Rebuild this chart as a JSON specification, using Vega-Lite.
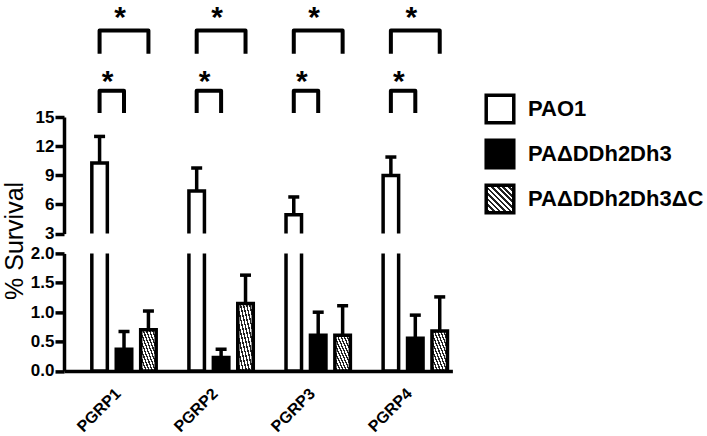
{
  "$schema": "https://vega.github.io/schema/vega-lite/v6.json",
  "padding": {"left": 2, "top": 3, "right": 5, "bottom": 0},
  "background": "white",
  "spacing": 19.4,
  "bounds": "flush",
  "config": {
    "view": {"stroke": null},
    "font": "Liberation Sans",
    "axis": {"domainColor": "black", "tickColor": "black", "labelColor": "black", "titleColor": "black", "grid": false, "labelOverlap": false}
  },
  "datasets": {
    "survival": [
      {"group": "PGRP1", "strain": "PAO1", "mean": 10.26, "upper": 13.0},
      {"group": "PGRP1", "strain": "PAΔDDh2Dh3", "mean": 0.37, "upper": 0.67},
      {"group": "PGRP1", "strain": "PAΔDDh2Dh3ΔC", "mean": 0.70, "upper": 1.02},
      {"group": "PGRP2", "strain": "PAO1", "mean": 7.38, "upper": 9.75},
      {"group": "PGRP2", "strain": "PAΔDDh2Dh3", "mean": 0.23, "upper": 0.37},
      {"group": "PGRP2", "strain": "PAΔDDh2Dh3ΔC", "mean": 1.15, "upper": 1.63},
      {"group": "PGRP3", "strain": "PAO1", "mean": 4.95, "upper": 6.77},
      {"group": "PGRP3", "strain": "PAΔDDh2Dh3", "mean": 0.61, "upper": 1.0},
      {"group": "PGRP3", "strain": "PAΔDDh2Dh3ΔC", "mean": 0.61, "upper": 1.11},
      {"group": "PGRP4", "strain": "PAO1", "mean": 8.97, "upper": 10.88},
      {"group": "PGRP4", "strain": "PAΔDDh2Dh3", "mean": 0.555, "upper": 0.95},
      {"group": "PGRP4", "strain": "PAΔDDh2Dh3ΔC", "mean": 0.68, "upper": 1.26}
    ],
    "brackets": [
      {"id": "PGRP1 a", "group": "PGRP1", "strain": "PAO1", "y": 15.4, "o": 1},
      {"id": "PGRP1 a", "group": "PGRP1", "strain": "PAO1", "y": 17.7, "o": 2},
      {"id": "PGRP1 a", "group": "PGRP1", "strain": "PAΔDDh2Dh3", "y": 17.7, "o": 3},
      {"id": "PGRP1 a", "group": "PGRP1", "strain": "PAΔDDh2Dh3", "y": 15.4, "o": 4},
      {"id": "PGRP1 b", "group": "PGRP1", "strain": "PAO1", "y": 21.5, "o": 1},
      {"id": "PGRP1 b", "group": "PGRP1", "strain": "PAO1", "y": 23.9, "o": 2},
      {"id": "PGRP1 b", "group": "PGRP1", "strain": "PAΔDDh2Dh3ΔC", "y": 23.9, "o": 3},
      {"id": "PGRP1 b", "group": "PGRP1", "strain": "PAΔDDh2Dh3ΔC", "y": 21.5, "o": 4},
      {"id": "PGRP2 a", "group": "PGRP2", "strain": "PAO1", "y": 15.4, "o": 1},
      {"id": "PGRP2 a", "group": "PGRP2", "strain": "PAO1", "y": 17.7, "o": 2},
      {"id": "PGRP2 a", "group": "PGRP2", "strain": "PAΔDDh2Dh3", "y": 17.7, "o": 3},
      {"id": "PGRP2 a", "group": "PGRP2", "strain": "PAΔDDh2Dh3", "y": 15.4, "o": 4},
      {"id": "PGRP2 b", "group": "PGRP2", "strain": "PAO1", "y": 21.5, "o": 1},
      {"id": "PGRP2 b", "group": "PGRP2", "strain": "PAO1", "y": 23.9, "o": 2},
      {"id": "PGRP2 b", "group": "PGRP2", "strain": "PAΔDDh2Dh3ΔC", "y": 23.9, "o": 3},
      {"id": "PGRP2 b", "group": "PGRP2", "strain": "PAΔDDh2Dh3ΔC", "y": 21.5, "o": 4},
      {"id": "PGRP3 a", "group": "PGRP3", "strain": "PAO1", "y": 15.4, "o": 1},
      {"id": "PGRP3 a", "group": "PGRP3", "strain": "PAO1", "y": 17.7, "o": 2},
      {"id": "PGRP3 a", "group": "PGRP3", "strain": "PAΔDDh2Dh3", "y": 17.7, "o": 3},
      {"id": "PGRP3 a", "group": "PGRP3", "strain": "PAΔDDh2Dh3", "y": 15.4, "o": 4},
      {"id": "PGRP3 b", "group": "PGRP3", "strain": "PAO1", "y": 21.5, "o": 1},
      {"id": "PGRP3 b", "group": "PGRP3", "strain": "PAO1", "y": 23.9, "o": 2},
      {"id": "PGRP3 b", "group": "PGRP3", "strain": "PAΔDDh2Dh3ΔC", "y": 23.9, "o": 3},
      {"id": "PGRP3 b", "group": "PGRP3", "strain": "PAΔDDh2Dh3ΔC", "y": 21.5, "o": 4},
      {"id": "PGRP4 a", "group": "PGRP4", "strain": "PAO1", "y": 15.4, "o": 1},
      {"id": "PGRP4 a", "group": "PGRP4", "strain": "PAO1", "y": 17.7, "o": 2},
      {"id": "PGRP4 a", "group": "PGRP4", "strain": "PAΔDDh2Dh3", "y": 17.7, "o": 3},
      {"id": "PGRP4 a", "group": "PGRP4", "strain": "PAΔDDh2Dh3", "y": 15.4, "o": 4},
      {"id": "PGRP4 b", "group": "PGRP4", "strain": "PAO1", "y": 21.5, "o": 1},
      {"id": "PGRP4 b", "group": "PGRP4", "strain": "PAO1", "y": 23.9, "o": 2},
      {"id": "PGRP4 b", "group": "PGRP4", "strain": "PAΔDDh2Dh3ΔC", "y": 23.9, "o": 3},
      {"id": "PGRP4 b", "group": "PGRP4", "strain": "PAΔDDh2Dh3ΔC", "y": 21.5, "o": 4}
    ]
  },
  "vconcat": [
    {
      "width": 388.4,
      "height": 116.6,
      "layer": [
        {
          "data": {"name": "survival"},
          "transform": [{"filter": "datum.strain === 'PAO1'"}],
          "mark": {"type": "bar", "clip": true, "stroke": "black", "strokeWidth": 3.5, "fill": "white"},
          "encoding": {
            "x": {"field": "group", "type": "nominal", "scale": {"domain": ["PGRP1", "PGRP2", "PGRP3", "PGRP4"], "paddingInner": 0, "paddingOuter": 0}, "axis": null},
            "xOffset": {"field": "strain", "type": "nominal", "scale": {"domain": ["PAO1", "PAΔDDh2Dh3", "PAΔDDh2Dh3ΔC"], "paddingInner": 0.365, "paddingOuter": 0.67, "align": 0.85}},
            "y": {"field": "mean", "type": "quantitative", "scale": {"domain": [3, 15], "zero": false, "nice": false}, "axis": {"values": [3, 6, 9, 12, 15], "tickCount": 10, "title": null, "domainWidth": 3.5, "tickWidth": 3.5, "tickSize": 9, "labelFontSize": 17, "labelFontWeight": "bold", "labelPadding": 1, "labelOverlap": false}},
            "y2": {"datum": 0}
          }
        },
        {
          "data": {"name": "survival"},
          "transform": [{"filter": "datum.strain === 'PAO1'"}],
          "mark": {"type": "rule", "stroke": "black", "strokeWidth": 3.5},
          "encoding": {
            "x": {"field": "group", "type": "nominal"},
            "xOffset": {"field": "strain", "type": "nominal"},
            "y": {"field": "mean", "type": "quantitative", "scale": {"domain": [3, 15], "zero": false, "nice": false}},
            "y2": {"field": "upper"}
          }
        },
        {
          "data": {"name": "survival"},
          "transform": [{"filter": "datum.strain === 'PAO1'"}],
          "mark": {"type": "tick", "color": "black", "thickness": 3.5, "size": 11, "orient": "horizontal", "opacity": 1},
          "encoding": {
            "x": {"field": "group", "type": "nominal"},
            "xOffset": {"field": "strain", "type": "nominal"},
            "y": {"field": "upper", "type": "quantitative", "scale": {"domain": [3, 15], "zero": false, "nice": false}}
          }
        },
        {
          "data": {"name": "brackets"},
          "mark": {"type": "line", "clip": false, "stroke": "black", "strokeWidth": 4, "strokeJoin": "round"},
          "encoding": {
            "x": {"field": "group", "type": "nominal"},
            "xOffset": {"field": "strain", "type": "nominal"},
            "y": {"field": "y", "type": "quantitative", "scale": {"domain": [3, 15], "zero": false, "nice": false}},
            "detail": {"field": "id"},
            "order": {"field": "o", "type": "quantitative"}
          }
        },
        {
          "data": {"name": "survival"},
          "transform": [{"filter": "datum.strain === 'PAΔDDh2Dh3'"}],
          "mark": {"type": "text", "text": "*", "fontSize": 30, "fontWeight": "bold", "baseline": "alphabetic", "dy": 17, "dx": -4, "clip": false, "color": "black"},
          "encoding": {
            "x": {"field": "group", "type": "nominal"},
            "xOffset": {"field": "strain", "type": "nominal"},
            "y": {"datum": 26.0, "type": "quantitative", "scale": {"domain": [3, 15], "zero": false, "nice": false}}
          }
        },
        {
          "data": {"name": "survival"},
          "transform": [{"filter": "datum.strain === 'PAO1'"}],
          "mark": {"type": "text", "text": "*", "fontSize": 30, "fontWeight": "bold", "baseline": "alphabetic", "dy": 16, "dx": 8, "clip": false, "color": "black"},
          "encoding": {
            "x": {"field": "group", "type": "nominal"},
            "xOffset": {"field": "strain", "type": "nominal"},
            "y": {"datum": 19.3, "type": "quantitative", "scale": {"domain": [3, 15], "zero": false, "nice": false}}
          }
        }
      ]
    },
    {
      "width": 388.4,
      "height": 117.6,
      "layer": [
        {
          "data": {"name": "survival"},
          "mark": {"type": "bar", "clip": true, "stroke": "black", "strokeWidth": 3.5},
          "encoding": {
            "x": {"field": "group", "type": "nominal", "scale": {"domain": ["PGRP1", "PGRP2", "PGRP3", "PGRP4"], "paddingInner": 0, "paddingOuter": 0}, "axis": {"title": null, "domainWidth": 3.5, "ticks": false, "labelAngle": -45, "labelAlign": "right", "labelBaseline": "top", "labelFontSize": 16, "labelFontWeight": "bold", "labelPadding": 14}},
            "xOffset": {"field": "strain", "type": "nominal", "scale": {"domain": ["PAO1", "PAΔDDh2Dh3", "PAΔDDh2Dh3ΔC"], "paddingInner": 0.365, "paddingOuter": 0.67, "align": 0.85}},
            "y": {"field": "mean", "type": "quantitative", "scale": {"domain": [0, 2], "nice": false}, "axis": {"values": [0, 0.5, 1, 1.5, 2], "tickCount": 10, "format": ".1f", "title": "% Survival", "titleFontSize": 25, "titleFontWeight": "normal", "titleAngle": 270, "titleAlign": "center", "titleBaseline": "middle", "titleX": -49, "titleY": -13, "domainWidth": 3.5, "tickWidth": 3.5, "tickSize": 9, "labelFontSize": 17, "labelFontWeight": "bold", "labelPadding": 1, "labelOverlap": false}},
            "y2": {"datum": 0},
            "fill": {"field": "strain", "type": "nominal", "scale": {"domain": ["PAO1", "PAΔDDh2Dh3", "PAΔDDh2Dh3ΔC"], "range": ["white", "black", {"expr": "{gradient: 'linear', x1: 0, y1: 1, x2: 1, y2: 0, stops: [{offset: 0, color: 'white'}, {offset: 0.054, color: 'white'}, {offset: 0.054, color: '#222'}, {offset: 0.1, color: '#222'}, {offset: 0.1, color: 'white'}, {offset: 0.154, color: 'white'}, {offset: 0.154, color: '#222'}, {offset: 0.2, color: '#222'}, {offset: 0.2, color: 'white'}, {offset: 0.254, color: 'white'}, {offset: 0.254, color: '#222'}, {offset: 0.3, color: '#222'}, {offset: 0.3, color: 'white'}, {offset: 0.354, color: 'white'}, {offset: 0.354, color: '#222'}, {offset: 0.4, color: '#222'}, {offset: 0.4, color: 'white'}, {offset: 0.454, color: 'white'}, {offset: 0.454, color: '#222'}, {offset: 0.5, color: '#222'}, {offset: 0.5, color: 'white'}, {offset: 0.554, color: 'white'}, {offset: 0.554, color: '#222'}, {offset: 0.6, color: '#222'}, {offset: 0.6, color: 'white'}, {offset: 0.654, color: 'white'}, {offset: 0.654, color: '#222'}, {offset: 0.7, color: '#222'}, {offset: 0.7, color: 'white'}, {offset: 0.754, color: 'white'}, {offset: 0.754, color: '#222'}, {offset: 0.8, color: '#222'}, {offset: 0.8, color: 'white'}, {offset: 0.854, color: 'white'}, {offset: 0.854, color: '#222'}, {offset: 0.9, color: '#222'}, {offset: 0.9, color: 'white'}, {offset: 0.954, color: 'white'}, {offset: 0.954, color: '#222'}, {offset: 1, color: '#222'}]}"}]}, "legend": {"title": null, "orient": "none", "legendX": 420, "legendY": -24, "symbolType": "square", "symbolSize": 760, "symbolStrokeColor": "black", "symbolStrokeWidth": 3.5, "symbolOpacity": 1, "labelFont": "Liberation Sans", "labelFontSize": 22, "labelFontWeight": "bold", "labelColor": "black", "labelOffset": 12, "labelLimit": 300, "rowPadding": 3, "padding": 0}}
          }
        },
        {
          "data": {"name": "survival"},
          "transform": [{"filter": "datum.strain !== 'PAO1'"}],
          "mark": {"type": "rule", "stroke": "black", "strokeWidth": 3.5},
          "encoding": {
            "x": {"field": "group", "type": "nominal"},
            "xOffset": {"field": "strain", "type": "nominal"},
            "y": {"field": "mean", "type": "quantitative", "scale": {"domain": [0, 2], "nice": false}},
            "y2": {"field": "upper"}
          }
        },
        {
          "data": {"name": "survival"},
          "transform": [{"filter": "datum.strain !== 'PAO1'"}],
          "mark": {"type": "tick", "color": "black", "thickness": 3.5, "size": 11, "orient": "horizontal", "opacity": 1},
          "encoding": {
            "x": {"field": "group", "type": "nominal"},
            "xOffset": {"field": "strain", "type": "nominal"},
            "y": {"field": "upper", "type": "quantitative", "scale": {"domain": [0, 2], "nice": false}}
          }
        }
      ]
    }
  ]
}
